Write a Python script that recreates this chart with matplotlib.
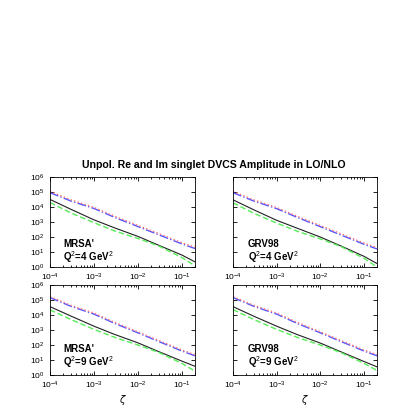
import matplotlib
matplotlib.use("Agg")
import matplotlib.pyplot as plt

plt.rcParams["font.family"] = ["Liberation Sans", "DejaVu Sans"]
plt.rcParams["mathtext.fontset"] = "custom"
plt.rcParams["mathtext.rm"] = "Liberation Sans"

zeta = [1e-4, 3e-4, 1e-3, 3e-3, 1e-2, 3e-2, 1e-1, 2e-1]

# MRSA', Q^2 = 4 GeV^2
mrsa4_red = [1.1e5, 3.0e4, 9.5e3, 2.4e3, 600, 170, 42, 21]
mrsa4_blue = [9.0e4, 2.5e4, 8.0e3, 2.0e3, 500, 140, 35, 17]
mrsa4_black = [3.2e4, 7.0e3, 1.4e3, 400, 110, 28, 6.3, 2.2]
mrsa4_green = [2.0e4, 4.0e3, 900, 250, 80, 25, 4.3, 1.2]

# GRV98, Q^2 = 4 GeV^2
grv4_red = [1.1e5, 3.0e4, 9.3e3, 2.4e3, 590, 165, 40, 20]
grv4_blue = [9.0e4, 2.5e4, 7.8e3, 2.0e3, 490, 135, 33, 16]
grv4_black = [3.0e4, 6.5e3, 1.3e3, 380, 100, 25, 5.2, 1.7]
grv4_green = [1.9e4, 3.8e3, 850, 240, 75, 23, 3.8, 1.0]

# MRSA', Q^2 = 9 GeV^2
mrsa9_red = [1.7e5, 4.4e4, 1.35e4, 3.2e3, 760, 200, 47, 23]
mrsa9_blue = [1.45e5, 3.8e4, 1.15e4, 2.7e3, 650, 170, 40, 19]
mrsa9_black = [3.6e4, 8.5e3, 1.8e3, 500, 140, 36, 8.5, 3.8]
mrsa9_green = [2.2e4, 5.0e3, 1.1e3, 320, 100, 32, 6.0, 1.8]

# GRV98, Q^2 = 9 GeV^2
grv9_red = [1.7e5, 4.4e4, 1.35e4, 3.2e3, 760, 200, 47, 23]
grv9_blue = [1.45e5, 3.8e4, 1.15e4, 2.7e3, 650, 170, 40, 19]
grv9_black = [3.6e4, 8.3e3, 1.8e3, 490, 135, 35, 8.0, 3.5]
grv9_green = [2.3e4, 5.0e3, 1.1e3, 320, 100, 31, 6.0, 2.0]

panels = [
    ("MRSA'", "4", mrsa4_red, mrsa4_blue, mrsa4_black, mrsa4_green),
    ("GRV98", "4", grv4_red, grv4_blue, grv4_black, grv4_green),
    ("MRSA'", "9", mrsa9_red, mrsa9_blue, mrsa9_black, mrsa9_green),
    ("GRV98", "9", grv9_red, grv9_blue, grv9_black, grv9_green),
]

W = 409.0
boxes = [(50, 195, 177, 267), (233, 377, 177, 267),
         (50, 195, 285, 375), (233, 377, 285, 375)]

fig = plt.figure(figsize=(4.09, 4.09), dpi=100)
fig.patch.set_facecolor("white")

for i, (pdf, q2, red, blue, black, green) in enumerate(panels):
    x0, x1, y0, y1 = boxes[i]
    ax = fig.add_axes([x0 / W, 1 - y1 / W, (x1 - x0) / W, (y1 - y0) / W])
    ax.plot(zeta, black, color="#222222", linestyle="-", lw=0.8)
    ax.plot(zeta, green, color="#55ee55", linestyle="--", lw=1.0, dashes=(4, 2))
    ax.plot(zeta, blue, color="#5555ff", linestyle="-.", lw=1.0)
    ax.plot(zeta, red, color="#ff7777", linestyle=":", lw=1.0)
    ax.set_xscale("log")
    ax.set_yscale("log")
    ax.set_xlim(1e-4, 0.2)
    ax.set_ylim(1, 1e6)
    ax.set_xticks([1e-4, 1e-3, 1e-2, 1e-1])
    ax.set_yticks([1, 1e1, 1e2, 1e3, 1e4, 1e5, 1e6])
    ax.tick_params(which="both", direction="in", top=True, right=True,
                   labelsize=6, width=0.6)
    ax.tick_params(axis="x", pad=3.5)
    ax.tick_params(axis="y", pad=4)
    ax.tick_params(which="major", length=3)
    ax.tick_params(which="minor", length=1.5)
    for s in ax.spines.values():
        s.set_linewidth(0.6)
    if i % 2 == 1:
        ax.set_yticklabels([])
    ty = 0.255 if i < 2 else 0.285
    tx = 0.09 if i % 2 == 0 else 0.105
    ax.text(tx, ty, pdf, transform=ax.transAxes, fontsize=7,
            fontweight="bold", va="center")
    ax.text(tx, ty - 0.145, "Q$^{2}$=" + q2 + " GeV$^{2}$", transform=ax.transAxes,
            fontsize=7, fontweight="bold", va="center")
    if i >= 2:
        ax.set_xlabel(r"$\zeta$", fontsize=7, labelpad=1)

fig.text(214 / W, 1 - 165 / W, "Unpol. Re and Im singlet DVCS Amplitude in LO/NLO",
         ha="center", va="center", fontsize=7.6, fontweight="bold")

fig.savefig("out.png", dpi=100, facecolor="white")
